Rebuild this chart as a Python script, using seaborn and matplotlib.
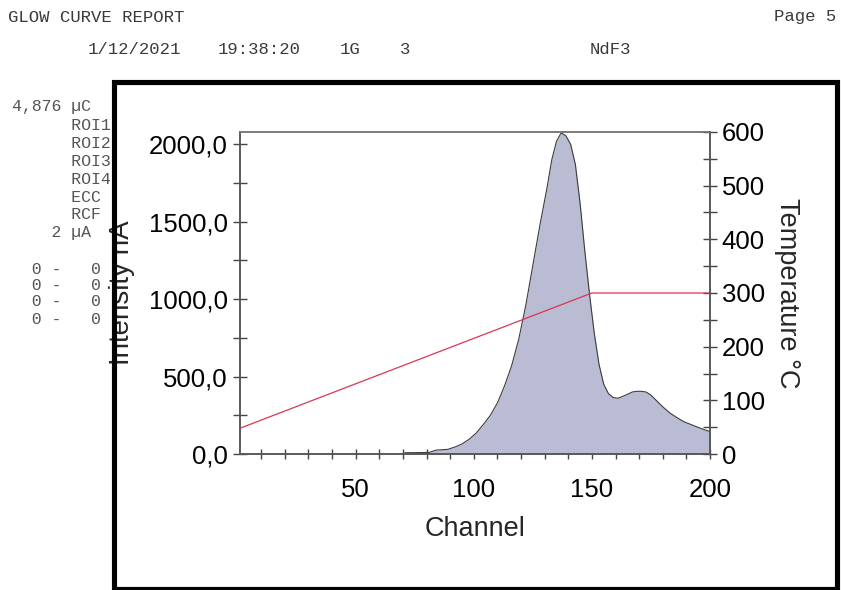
import matplotlib
matplotlib.use("Agg")
import matplotlib.pyplot as plt
from matplotlib.patches import Rectangle
import seaborn as sns
import pandas as pd

# Glow curve: intensity (nA) per channel
channels = [70, 71, 81, 84, 89, 92, 95, 98, 101, 104, 107, 110, 113, 116, 119,
            122, 125, 128, 131, 133, 135, 137, 139, 141, 143, 145, 147, 149,
            151, 153, 155, 157, 159, 161, 163, 165, 167, 169, 171, 173, 175,
            177, 180, 183, 186, 189, 192, 195, 198, 200]
intensity = [0, 8, 10, 25, 30, 45, 65, 95, 135, 190, 250, 330, 440, 570, 740,
             960, 1220, 1480, 1720, 1900, 2020, 2075, 2055, 2000, 1870, 1620,
             1310, 1030, 780, 580, 450, 390, 365, 360, 372, 385, 400, 405, 405,
             400, 380, 350, 305, 265, 235, 208, 190, 172, 155, 145]

# Heating profile (°C) per channel
temp_channels = [1, 150, 200]
temperature = [48, 300, 300]

intensity_ticks = [0, 500, 1000, 1500, 2000]
intensity_labels = ["0,0", "500,0", "1000,0", "1500,0", "2000,0"]
temp_ticks = [0, 100, 200, 300, 400, 500, 600]
channel_ticks = [50, 100, 150, 200]

header_left = "GLOW CURVE REPORT"
header_right = "Page 5"
run_fields = [("1/12/2021", 88), ("19:38:20", 218), ("1G", 340), ("3", 400), ("NdF3", 590)]
side_lines = ["4,876 µC", "      ROI1", "      ROI2", "      ROI3", "      ROI4",
              "      ECC", "      RCF", "    2 µA"]
side_rows = ["  0 -   0", "  0 -   0", "  0 -   0", "  0 -   0"]

sns.set_theme(style="white")
plt.rcParams["font.family"] = ["Liberation Sans", "DejaVu Sans"]

W, H = 842, 590
fig = plt.figure(figsize=(W / 100, H / 100), dpi=100)
ax = fig.add_axes([240 / W, (H - 454) / H, 470 / W, 322 / H])
ax2 = ax.twinx()

glow = pd.DataFrame({"Channel": channels, "Intensity": intensity})
heat = pd.DataFrame({"Channel": temp_channels, "Temperature": temperature})

ax.fill_between(glow["Channel"], glow["Intensity"], color="#babcd3", lw=0, zorder=1)
sns.lineplot(data=glow, x="Channel", y="Intensity", ax=ax, color="#3c3c3c",
             lw=0.8, zorder=2)
sns.lineplot(data=heat, x="Channel", y="Temperature", ax=ax2, color="#dc3552",
             lw=0.9)

ax.set_xlim(1, 200)
ax.set_ylim(0, 2080)
ax2.set_ylim(0, 600)

tick_font = 18.5
ax.set_yticks(intensity_ticks, labels=intensity_labels, fontsize=tick_font)
ax.set_yticks([250, 750, 1250, 1750], minor=True)
ax.set_xticks(channel_ticks, labels=[str(c) for c in channel_ticks], fontsize=tick_font)
ax.set_xticks(list(range(10, 201, 10)), minor=True)
ax2.set_yticks(temp_ticks, labels=[str(t) for t in temp_ticks], fontsize=tick_font)
ax2.set_yticks([50, 150, 250, 350, 450, 550], minor=True)

ax.tick_params(axis="y", which="both", left=True, direction="inout", length=9.5,
               width=1, color="#444444", pad=4, labelcolor="black")
ax.tick_params(axis="x", which="both", bottom=True, direction="inout", length=7,
               width=1, color="#444444", pad=13.5, labelcolor="black")
ax2.tick_params(axis="y", which="both", right=True, direction="inout", length=10,
                width=1, color="#444444", pad=3.5, labelcolor="black")

for a in (ax, ax2):
    for side, sp in a.spines.items():
        sp.set_visible(True)
        sp.set_color("#555555" if side != "top" else "#777777")
        sp.set_linewidth(1.1)

ax.set_xlabel("Channel", fontsize=19.5, va="center")
ax.xaxis.set_label_coords(0.5, (454 - 529) / 322)
ax.set_ylabel("Intensity nA", fontsize=20, va="center")
ax.yaxis.set_label_coords((122 - 240) / 470, 0.5)
ax2.set_ylabel("Temperature °C", fontsize=19.5, rotation=270, va="center")
ax2.yaxis.set_label_coords((787 - 240) / 470, 0.5)

# Report header and side panel in a typewriter face
mono = dict(family=["Liberation Mono", "DejaVu Sans Mono"], color="#3a3a3a")
fig.text(8 / W, 1 - 17 / H, header_left, fontsize=12.4, va="center", ha="left", **mono)
fig.text(836 / W, 1 - 17 / H, header_right, fontsize=12.4, va="center", ha="right", **mono)
for txt, xpix in run_fields:
    fig.text(xpix / W, 1 - 50 / H, txt, fontsize=12.4, va="center", ha="left", **mono)

side = dict(family=["Liberation Mono", "DejaVu Sans Mono"], color="#555555")
side_y = [107, 125, 143, 161, 179, 197, 215, 233]
for txt, yp in zip(side_lines, side_y):
    fig.text(12 / W, 1 - yp / H, txt, fontsize=11.9, va="center", ha="left", **side)
for txt, yp in zip(side_rows, [269, 286, 302, 319]):
    fig.text(12 / W, 1 - yp / H, txt, fontsize=11.9, va="center", ha="left", **side)

# Heavy page frame around the chart
fig.add_artist(Rectangle((114 / W, 1.5 / H), 723 / W, 506.5 / H,
                         transform=fig.transFigure, fill=False, ec="black",
                         lw=3.7, zorder=5))

fig.savefig("out.png", dpi=100, facecolor="white")
